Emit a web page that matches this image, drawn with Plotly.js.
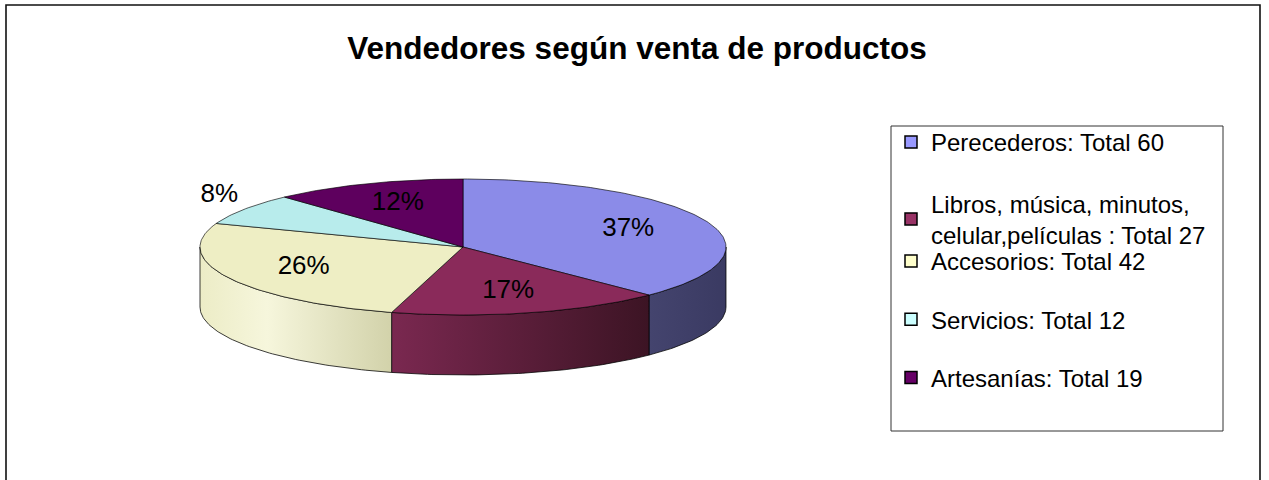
<!DOCTYPE html>
<html><head><meta charset="utf-8">
<script src="https://cdn.plot.ly/plotly-3.0.1.min.js"></script>
<style>html,body{margin:0;padding:0;background:#fff;} #chart{width:1269px;height:480px;}</style>
</head><body><div id="chart"></div>
<script>
// ---- data ----
const categories = ["Perecederos: Total 60", "Libros, música, minutos,<br>celular,películas : Total 27", "Accesorios: Total 42", "Servicios: Total 12", "Artesanías: Total 19"];
const values = [60, 27, 42, 12, 19];
const percentLabels = ["37%", "17%", "26%", "8%", "12%"];
const legendColors = ["#9999FF", "#993366", "#FFFFCC", "#CCFFFF", "#660066"];
const topColors = ["#8b8be8", "#8a2a5a", "#eeeec4", "#b8ecec", "#5e005e"];
const wallColorscales = [
  [[0, '#44446e'], [1, '#3a3a62']],
  [[0, '#7a2850'], [1, '#3c1424']],
  [[0, '#ececc6'], [0.35, '#f6f6dc'], [1, '#d2d2aa']],
  [[0, '#99cccc'], [1, '#779999']],
  [[0, '#500050'], [1, '#300030']]
];

// ---- layout geometry (pixels) ----
const W = 1269, H = 480;
const CX = 463, CY = 247, RX = 263, RY = 68, DEPTH = 60;
const FONT = 'Liberation Sans, Arial, Helvetica, sans-serif';

const total = values.reduce((a, b) => a + b, 0);
let cum = 0;
const slices = values.map(v => { const a0 = cum / total * 360; cum += v; return [a0, cum / total * 360]; });
function rim(th, dy) { const r = th * Math.PI / 180; return [CX + RX * Math.sin(r), CY - RY * Math.cos(r) + (dy || 0)]; }
function arc(a, b, dy) { const pts = []; const n = Math.max(2, Math.ceil(Math.abs(b - a))); for (let i = 0; i <= n; i++) pts.push(rim(a + (b - a) * i / n, dy)); return pts; }

const traces = [];
// side walls (front half only)
slices.forEach(([a0, a1], i) => {
  const s = Math.max(a0, 90), e = Math.min(a1, 270);
  if (e <= s) return;
  const top = arc(s, e, 0), bot = arc(e, s, DEPTH);
  const pts = top.concat(bot); pts.push(top[0]);
  traces.push({
    type: 'scatter', mode: 'lines', x: pts.map(p => p[0]), y: pts.map(p => p[1]),
    fill: 'toself', fillcolor: wallColorscales[i][0][1],
    fillgradient: { type: 'horizontal', colorscale: wallColorscales[i] },
    line: { color: 'rgba(0,0,0,0.85)', width: 0.9 }, hoverinfo: 'skip', showlegend: false
  });
});
// top faces
slices.forEach(([a0, a1], i) => {
  const pts = [[CX, CY]].concat(arc(a0, a1, 0)); pts.push([CX, CY]);
  traces.push({
    type: 'scatter', mode: 'lines', x: pts.map(p => p[0]), y: pts.map(p => p[1]),
    fill: 'toself', fillcolor: topColors[i],
    line: { color: 'rgba(0,0,0,0.8)', width: 0.8 }, hoverinfo: 'skip', showlegend: false
  });
});
// percent labels
const lx = [], ly = [];
slices.forEach(([a0, a1], i) => {
  const m = (a0 + a1) / 2, r = m * Math.PI / 180;
  if (values[i] / total < 0.1) {
    const p = rim(m, 0);
    lx.push(p[0] + 30 * Math.sin(r)); ly.push(p[1] - 24 * Math.cos(r));
  } else {
    const f = 0.68;
    lx.push(CX + f * RX * Math.sin(r)); ly.push(CY - f * RY * Math.cos(r));
  }
});
traces.push({
  type: 'scatter', mode: 'text', x: lx, y: ly, text: percentLabels, textposition: 'middle center',
  textfont: { family: FONT, size: 26, color: '#000' }, hoverinfo: 'skip', showlegend: false
});
// legend entries (first two entries in legend, rest in legend2 to mimic spacing)
categories.forEach((c, i) => {
  traces.push({
    type: 'scatter', mode: 'markers', x: [null], y: [null], name: c, legendgroup: 'g' + i,
    legend: i < 2 ? 'legend' : 'legend2',
    marker: { symbol: 'square', size: 12, color: legendColors[i], line: { color: '#000', width: 1.5 } },
    showlegend: true, hoverinfo: 'skip'
  });
});

const legendBase = {
  xanchor: 'left', yanchor: 'top', x: 891 / W,
  font: { family: FONT, size: 24, color: '#000' }, bgcolor: 'rgba(0,0,0,0)',
  borderwidth: 0, traceorder: 'grouped'
};

const layout = {
  width: W, height: H, margin: { l: 0, r: 0, t: 0, b: 0 },
  paper_bgcolor: '#fff', plot_bgcolor: 'rgba(0,0,0,0)', hovermode: false,
  xaxis: { range: [0, W], visible: false, fixedrange: true },
  yaxis: { range: [H, 0], visible: false, fixedrange: true },
  showlegend: true,
  legend: Object.assign({}, legendBase, { y: 1 - 120 / H, tracegroupgap: 27 }),
  legend2: Object.assign({}, legendBase, { y: 1 - 239 / H, tracegroupgap: 24 }),
  title: {
    text: 'Vendedores según venta de productos',
    font: { family: FONT, size: 31.5, weight: 700, color: '#000' },
    x: 637 / W, xanchor: 'center', y: 1 - 48 / H, yanchor: 'middle'
  },
  shapes: [
    { type: 'rect', xref: 'paper', yref: 'paper', x0: 6 / W, x1: 1260 / W, y0: -0.2, y1: 1 - 5 / H, line: { color: '#111', width: 1.6 }, fillcolor: 'rgba(0,0,0,0)', layer: 'below' },
    { type: 'rect', xref: 'paper', yref: 'paper', x0: 891 / W, x1: 1223 / W, y0: 1 - 431 / H, y1: 1 - 126 / H, line: { color: '#333', width: 1 }, fillcolor: 'rgba(0,0,0,0)', layer: 'below' }
  ]
};

Plotly.newPlot('chart', traces, layout, { staticPlot: true, displayModeBar: false });
</script>
</body></html>
